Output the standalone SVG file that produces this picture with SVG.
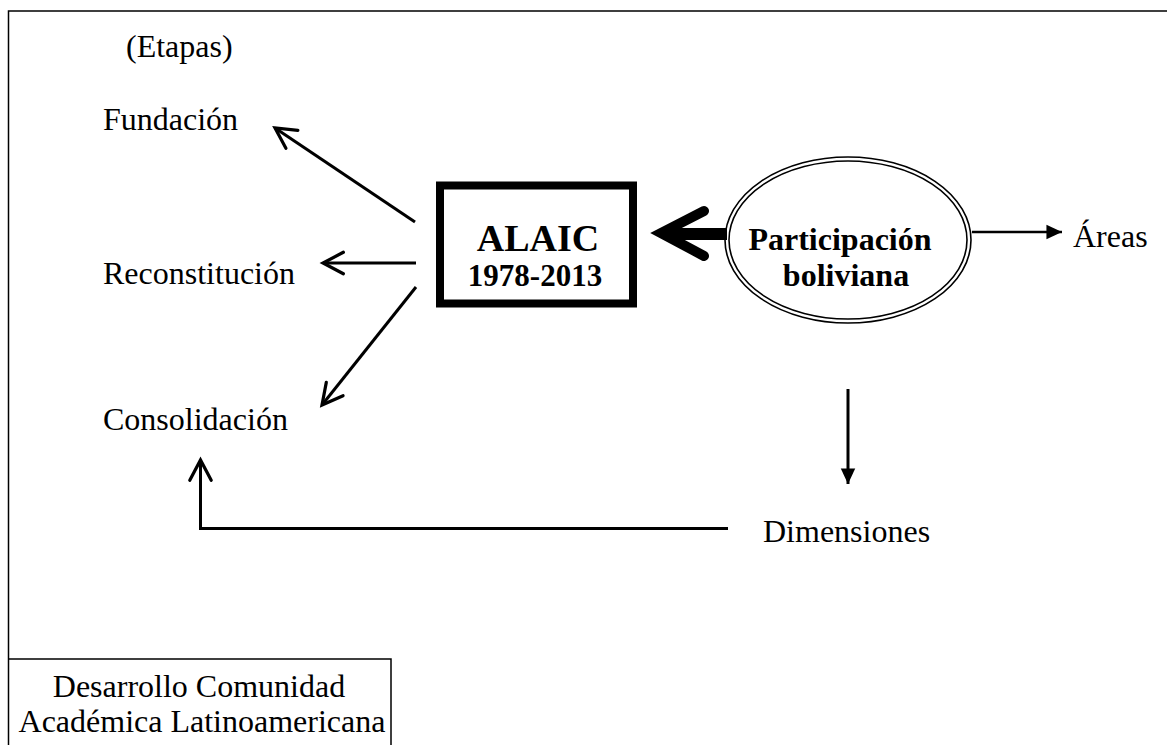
<svg xmlns="http://www.w3.org/2000/svg" width="1167" height="745" viewBox="0 0 1167 745">
<style>
.t{font-family:"Liberation Serif","Times New Roman",serif;font-size:32px;fill:#000}
.b{font-weight:bold}
.big{font-size:38px}
.num{font-size:31px}
.ln{fill:none;stroke:#000;stroke-width:3}
.fr{fill:none;stroke:#000;stroke-width:1.5}
</style>
<defs>
<marker id="open" markerUnits="userSpaceOnUse" markerWidth="30" markerHeight="30" refX="0" refY="0" viewBox="-22 -14 26 28" orient="auto" overflow="visible">
<path d="M -19 -10 L 0 0 L -19 10" fill="none" stroke="#000" stroke-width="3" stroke-linecap="round" stroke-linejoin="miter"/>
</marker>
<marker id="solid" markerUnits="userSpaceOnUse" markerWidth="20" markerHeight="20" refX="0" refY="0" viewBox="-16 -8 18 16" orient="auto" overflow="visible">
<path d="M -14 -6.5 L 0 0 L -14 6.5 Z" fill="#000"/>
</marker>
</defs>
<rect width="1167" height="745" fill="#fff"/>
<g id="frame">
<path class="fr" d="M 1167 11 H 8.5 V 745"/>
</g>
<g id="etapas"><text class="t" x="126" y="57">(Etapas)</text></g>
<g id="fundacion"><text class="t" x="103" y="130">Fundación</text></g>
<g id="reconstitucion"><text class="t" x="103" y="284">Reconstitución</text></g>
<g id="consolidacion"><text class="t" x="103" y="430">Consolidación</text></g>
<g id="alaic">
<rect x="440" y="185.5" width="193" height="118" fill="none" stroke="#000" stroke-width="8"/>
<text class="t b big" x="538" y="251" text-anchor="middle">ALAIC</text>
<text class="t b num" x="535" y="286" text-anchor="middle">1978-2013</text>
</g>
<g id="participacion">
<ellipse cx="848" cy="240" rx="123" ry="83" fill="none" stroke="#000" stroke-width="1.6"/>
<ellipse cx="848" cy="240" rx="119" ry="79" fill="none" stroke="#000" stroke-width="1.6"/>
<text class="t b" x="840" y="250" text-anchor="middle">Participación</text>
<text class="t b" x="846" y="286" text-anchor="middle">boliviana</text>
</g>
<g id="areas"><text class="t" x="1073" y="247">Áreas</text></g>
<g id="dimensiones"><text class="t" x="763" y="542">Dimensiones</text></g>
<g id="desarrollo">
<path class="fr" d="M 8.5 659 H 391 V 745"/>
<text class="t" x="199" y="697" text-anchor="middle">Desarrollo Comunidad</text>
<text class="t" x="202" y="732" text-anchor="middle">Académica Latinoamericana</text>
</g>
<g id="connectors">
<line class="ln" x1="415" y1="222" x2="275" y2="128" marker-end="url(#open)"/>
<line class="ln" x1="416" y1="263" x2="323" y2="263" marker-end="url(#open)"/>
<line class="ln" x1="416" y1="287" x2="322" y2="405" marker-end="url(#open)"/>
<path d="M 727 234 H 668" fill="none" stroke="#000" stroke-width="12"/>
<path d="M 704 211 L 661 233 L 704 256" fill="none" stroke="#000" stroke-width="10" stroke-linecap="round" stroke-linejoin="miter"/>
<line x1="972" y1="232" x2="1062" y2="232" stroke="#000" stroke-width="2.5" marker-end="url(#solid)"/>
<line x1="848" y1="389" x2="848" y2="484" stroke="#000" stroke-width="3" marker-end="url(#solid)"/>
<path class="ln" d="M 728 528.5 H 200.5 V 460" stroke-width="3.5" marker-end="url(#open)"/>
</g>
</svg>
